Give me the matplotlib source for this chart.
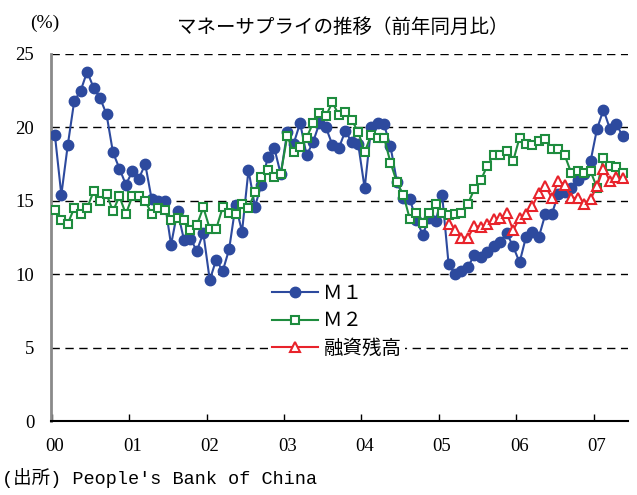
import matplotlib
matplotlib.use("Agg")
import matplotlib.pyplot as plt
from matplotlib.ticker import FixedLocator, NullFormatter

plt.rcParams['font.family'] = ['Liberation Serif', 'Noto Sans CJK JP']

# ---- data (monthly, Jan 2000 - May 2007, YoY %) ----
m1 = [19.5, 15.4, 18.8, 21.8, 22.5, 23.8, 22.7, 22.0, 20.9, 18.3, 17.2, 16.1,
      17.0, 16.5, 17.5, 15.1, 15.0, 15.0, 12.0, 14.3, 12.35, 12.4, 11.6, 12.8,
      9.6, 11.0, 10.2, 11.7, 14.7, 12.9, 17.1, 14.6, 16.1, 18.0, 18.6, 16.8,
      19.7, 18.9, 20.3, 18.1, 19.0, 20.3, 20.0, 18.8, 18.6, 19.75, 19.0, 18.85,
      15.85, 20.0, 20.3, 20.2, 18.7, 16.3, 15.2, 15.1, 13.7, 12.7, 13.8, 13.6,
      15.4, 10.7, 10.0, 10.2, 10.5, 11.3, 11.2, 11.5, 11.9, 12.2, 12.8, 11.9,
      10.8, 12.55, 12.85, 12.55, 14.1, 14.1, 15.45, 15.6, 15.85, 16.4, 16.8, 17.7,
      19.9, 21.2, 19.9, 20.2, 19.4]
m2 = [14.4, 13.7, 13.45, 14.5, 14.1, 14.5, 15.65, 15.0, 15.45, 14.3, 15.3, 14.1,
      15.3, 15.3, 15.0, 14.1, 14.5, 14.4, 13.7, 13.8, 13.7, 13.0, 13.35, 14.55,
      13.1, 13.1, 14.55, 14.2, 14.1, 14.75, 14.5, 15.6, 16.6, 17.1, 16.6, 16.85,
      19.4, 18.3, 18.65, 19.3, 20.3, 20.95, 20.8, 21.7, 20.85, 21.05, 20.5, 19.7,
      18.3, 19.5, 19.3, 19.3, 17.6, 16.25, 15.4, 13.75, 14.15, 13.5, 14.15, 14.8,
      14.2, 14.0, 14.1, 14.2, 14.8, 15.8, 16.4, 17.4, 18.1, 18.1, 18.4, 17.7,
      19.3, 18.9, 18.8, 19.1, 19.2, 18.5, 18.5, 18.1, 16.9, 17.0, 16.9, 17.0,
      15.9, 17.9, 17.4, 17.3, 16.9]
loan_start = 61  # Feb 2005
loans = [13.4, 13.0, 12.5, 12.5, 13.3, 13.2, 13.45, 13.75, 13.8, 14.15, 13.0,
         13.8, 14.1, 14.65, 15.55, 16.0, 15.2, 16.35, 16.1, 15.2, 15.2, 14.8, 15.1,
         16.0, 17.2, 16.35, 16.6, 16.55]
year_labels = ["00", "01", "02", "03", "04", "05", "06", "07"]
series_names = ["Ｍ１", "Ｍ２", "融資残高"]

x_m = list(range(len(m1)))
x_l = list(range(loan_start, loan_start + len(loans)))

W, H = 637, 495
fig = plt.figure(figsize=(W / 100, H / 100), dpi=100)
L, R, T, B = 51, 628, 54, 421
ax = fig.add_axes([L / W, 1 - B / H, (R - L) / W, (B - T) / H])

blue = '#2D4A9E'
green = '#1E8C3E'
red = '#E8232B'

ax.plot(x_m, m1, color=blue, lw=1.5, marker='o', ms=7.5, mfc=blue, mec=blue,
        label=series_names[0], zorder=3)
ax.plot(x_m, m2, color=green, lw=1.5, marker='s', ms=6.3, mfc='white', mec=green,
        mew=1.5, label=series_names[1], zorder=4)
ax.plot(x_l, loans, color=red, lw=1.5, marker='^', ms=7.5, mfc='white', mec=red,
        mew=1.5, label=series_names[2], zorder=5)

ax.set_ylim(0, 25)
ax.set_xlim(-0.6, 88.8)
ax.set_yticks([0, 5, 10, 15, 20, 25])
for v in [5, 10, 15, 20, 25]:
    ax.axhline(v, color='black', lw=1.0, ls=(0, (6, 4)), zorder=1)

ax.tick_params(axis='y', length=0, pad=12, labelsize=13.5)
ax.xaxis.set_major_locator(FixedLocator([12 * k - 0.5 for k in range(8)]))
ax.xaxis.set_major_formatter(NullFormatter())
ax.xaxis.set_minor_locator(FixedLocator([12 * k for k in range(8)]))
ax.set_xticklabels(year_labels, minor=True)
ax.tick_params(axis='x', which='major', direction='in', length=5, width=1, color='black')
ax.tick_params(axis='x', which='minor', length=0, pad=12, labelsize=13.5)

for s in ['top', 'right']:
    ax.spines[s].set_visible(False)
ax.spines['left'].set_color('#8a8a8a')
ax.spines['left'].set_linewidth(2)
ax.spines['bottom'].set_color('black')
ax.spines['bottom'].set_linewidth(1.5)

leg = ax.legend(loc='upper left', bbox_to_anchor=((268 - L) / (R - L), (B - 279) / (B - T)),
                frameon=True, facecolor='white', edgecolor='none', framealpha=1,
                fancybox=False, borderpad=0.2, borderaxespad=0, handlelength=2.35,
                handletextpad=0.3, labelspacing=0.33,
                prop={'family': ['Noto Sans CJK JP'], 'size': 14})
leg.set_zorder(6)

fig.text(30 / W, 1 - 23 / H, "(%)", fontsize=14, va='center', ha='left')
fig.text(343 / W, 1 - 27 / H, "マネーサプライの推移（前年同月比）", fontsize=14,
         family=['Noto Sans CJK JP'], va='center', ha='center')
fig.text(2 / W, 1 - 478 / H, "(出所) People's Bank of China", fontsize=13.3,
         family=['Liberation Mono', 'Noto Sans CJK JP'], va='center', ha='left')

fig.savefig('out.png', dpi=100)
